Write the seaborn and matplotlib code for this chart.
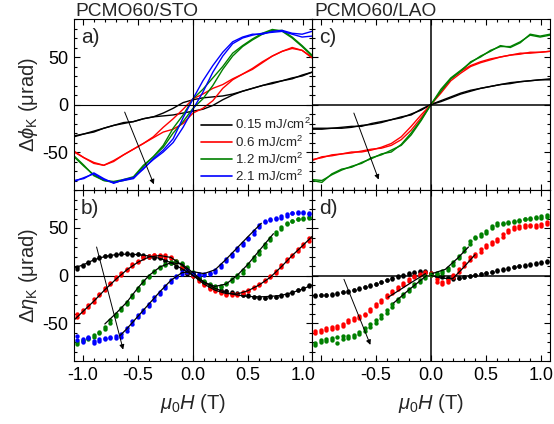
import matplotlib
matplotlib.use("Agg")
import matplotlib.pyplot as plt
from matplotlib.lines import Line2D
from matplotlib.ticker import MultipleLocator, FuncFormatter
import seaborn as sns

# ---------------- data ----------------
# Kerr rotation loops (top row): field grid and two sweep branches per fluence
H_loop = [-1.08, -0.99, -0.90, -0.81, -0.72, -0.63, -0.54, -0.45, -0.36, -0.27, -0.18, -0.09,
          0.00, 0.09, 0.18, 0.27, 0.36, 0.45, 0.54, 0.63, 0.72, 0.81, 0.90, 0.99, 1.08]

# PCMO60/STO, Delta phi_K (urad)
a_k015_dn = [-34, -31, -29, -25, -22, -20, -18, -15, -13, -9, -4, 2, 5, 7, 8, 9, 11, 14, 17, 20, 22, 25, 27, 31, 34]
a_k015_up = [-33, -31, -28, -25, -22, -19, -18, -15, -13, -12, -11, -9, -7, -5, -1, 5, 10, 14, 17, 20, 23, 25, 28, 30, 34]
a_k06_dn = [-50, -56, -62, -64, -59, -53, -47, -41, -34, -24, -15, -5, 6, 11, 17, 21, 27, 32, 37, 44, 51, 56, 60, 57, 50]
a_k06_up = [-49, -56, -61, -64, -60, -53, -47, -41, -35, -29, -26, -20, -9, -4, 4, 17, 26, 32, 38, 45, 51, 56, 59, 57, 49]
a_k12_dn = [-54, -64, -75, -80, -82, -80, -77, -65, -55, -43, -25, -11, 6, 16, 28, 40, 54, 62, 69, 75, 79, 77, 70, 61, 51]
a_k12_up = [-55, -65, -74, -80, -81, -79, -76, -64, -55, -45, -30, -18, -4, 6, 20, 37, 51, 61, 68, 74, 78, 78, 71, 62, 52]
a_k21_dn = [-80, -78, -72, -78, -83, -79, -77, -68, -57, -48, -36, -14, 6, 25, 41, 55, 66, 71, 74, 74, 77, 78, 75, 74, 77]
a_k21_up = [-81, -77, -73, -79, -82, -80, -78, -67, -58, -50, -40, -24, -5, 13, 34, 51, 64, 70, 73, 75, 76, 77, 74, 71, 72]

# PCMO60/LAO, Delta phi_K (urad)
c_k015_dn = [-26, -26, -25, -25, -24, -22, -21, -19, -16, -14, -10, -6, 0, 4, 8, 12, 15, 17, 19, 21, 22, 24, 25, 26, 27]
c_k015_up = [-25, -25, -25, -24, -23, -23, -20, -18, -16, -13, -11, -5, 0, 3, 7, 11, 14, 17, 19, 21, 23, 24, 25, 26, 26]
c_k06_dn = [-59, -55, -54, -52, -50, -50, -48, -45, -41, -34, -23, -11, 0, 14, 27, 35, 41, 45, 48, 50, 52, 53, 55, 55, 56]
c_k06_up = [-58, -56, -53, -52, -51, -49, -47, -46, -43, -37, -27, -14, 0, 12, 25, 33, 40, 44, 47, 50, 52, 54, 54, 55, 56]
c_k12_dn = [-80, -82, -73, -68, -66, -61, -57, -52, -50, -42, -30, -16, 0, 16, 28, 36, 44, 51, 56, 62, 60, 65, 74, 72, 74]
c_k12_up = [-79, -80, -74, -69, -65, -62, -56, -53, -48, -43, -32, -17, 0, 14, 27, 35, 45, 50, 57, 61, 61, 66, 73, 71, 73]

# Kerr ellipticity (bottom row): field grid and two sweep branches per fluence
H_dots = [-1.05, -1.00, -0.95, -0.90, -0.85, -0.80, -0.75, -0.70, -0.65, -0.60, -0.55, -0.50,
          -0.45, -0.40, -0.35, -0.30, -0.25, -0.20, -0.15, -0.10, -0.05, 0.00, 0.05, 0.10,
          0.15, 0.20, 0.25, 0.30, 0.35, 0.40, 0.45, 0.50, 0.55, 0.60, 0.65, 0.70, 0.75,
          0.80, 0.85, 0.90, 0.95, 1.00, 1.05]

# PCMO60/STO, Delta eta_K (urad)
b_k015_1 = [8.5, 11, 14, 17, 19, 20.5, 22, 23, 23.5, 23, 23, 22.5, 21.5, 20, 19, 18, 16, 13, 10, 6.5, 3, 0,
            -4, -8, -11, -13.5, -15, -16.5, -17.5, -19, -20, -21.5, -22.5, -23.5, -23.5, -23, -22.5, -21.5,
            -19.5, -17, -15.5, -13.5, -11]
b_k015_2 = [7, 10, 13, 16, 18, 21, 21, 22, 22.5, 24, 22, 23, 21, 21, 18, 19, 15, 14, 9, 7, 2, 1,
            -3, -7, -12, -13, -16, -16, -18, -18.5, -21, -21, -23, -22.5, -24, -22, -23, -20.5,
            -20, -18, -15, -14, -10]
b_k06_1 = [-44, -38, -33, -28, -21, -15, -9, -4, 1, 6, 10, 14, 18, 20, 21.5, 22, 21.5, 19, 15, 10, 5, 0.5,
           -4, -9, -13, -15, -17, -19, -19.5, -20, -18, -16, -13, -10, -6, -2, 3, 9, 15, 21, 26, 31, 36]
b_k06_2 = [-41, -36, -31, -25, -19, -13, -8, -2, 3, 7, 12, 15, 19, 21, 22, 21, 20, 18, 14, 9, 4, -1,
           -6, -10, -14, -16, -18, -20, -20, -19, -17, -15, -12, -9, -5, 0, 5, 11, 17, 22, 28, 33, 39]
b_k12_1 = [-70, -68, -66, -63, -59, -54, -47, -40, -34, -28, -21, -13, -6, 0, 5, 9, 12, 14, 14.5, 12, 8, 3,
           -3, -7, -10, -12, -11, -8, -4, 0.5, 6, 12, 19, 26, 33, 40, 46, 51, 55, 57.5, 59.5, 61, 61]
b_k12_2 = [-72, -69, -67, -65, -61, -56, -50, -43, -36, -30, -23, -15, -8, -2, 4, 8, 11, 13, 15, 13, 9, 4,
           -2, -6, -9, -11, -12, -9, -6, -2, 3, 10, 16, 23, 30, 37, 44, 49, 54, 57, 59, 60, 62]
b_k21_1 = [-64, -67, -65, -69, -67, -66, -65, -64, -62, -55, -48, -42, -36, -30, -23, -17, -11, -5, 0, 4, 5.5, 3,
           1.5, 2, 3, 6, 11, 17, 23, 29, 34, 40, 47, 53, 57, 59, 61, 63, 64.5, 65.5, 66, 65.5, 65]
b_k21_2 = [-68, -70, -66, -71, -69, -67, -66, -66, -65, -58, -51, -44, -38, -32, -26, -19, -13, -7, -2, 2, 4, 2,
           1, 1, 2, 4, 9, 15, 21, 27, 32, 38, 44, 51, 56, 58, 60, 61, 63, 66, 67, 67, 66]

# PCMO60/LAO, Delta eta_K (urad)
d_k015_1 = [-20.5, -20.5, -20, -19, -18, -17, -16, -15, -13, -12, -10.5, -8.5, -6.5, -4.5, -3, -1, 1, 2.5, 3.5, 4, 4, 2,
            -0.5, -1.5, -2.5, -3, -2.5, -1.5, 0, 1, 2, 3, 4, 5.5, 6.5, 7.5, 8.5, 9.5, 10.5, 11.5, 12.5, 13.5, 14.5]
d_k015_2 = [-22, -21, -21, -20, -19, -17.5, -17, -15, -14, -12.5, -11, -9, -7, -5, -3.5, -2, 0, 2, 3, 4.5, 5, 3,
            0, -1, -3, -3.5, -3, -2, -1, 0.5, 1.5, 2.5, 3.5, 5, 6, 7, 9, 10, 11, 12, 13, 14, 15]
d_k06_1 = [-58, -57, -55, -54, -53, -51, -47, -45, -43, -40, -35, -30, -26, -21, -16, -12, -8, -4, -1, 2, 3, 1,
           -7, -7, -5, 1, 7, 13, 19, 23, 28, 32, 35, 38, 44, 48, 51, 52, 53, 53, 53, 54, 56]
d_k06_2 = [-61, -59, -57, -56, -55, -53, -49, -47, -45, -42, -37, -32, -28, -23, -18, -14, -10, -6, -2, 1, 4, 3,
           -4, -9, -7, -2, 4, 10, 16, 21, 25, 30, 33, 36, 41, 46, 49, 50, 51, 52, 51, 52, 54]
d_k12_1 = [-71, -68, -67, -66, -65, -64, -64, -63, -59, -55, -51, -47, -42, -36, -30, -25, -19, -14, -9, -5, -1, 2,
           3, 5, 8, 14, 21, 29, 36, 41, 44, 47, 52, 55, 55.5, 56, 57, 58, 60, 61, 62, 62.5, 63.5]
d_k12_2 = [-73, -70, -69, -68, -71, -67, -66, -65, -62, -58, -54, -50, -45, -39, -33, -27, -22, -16, -11, -7, -3, 1,
           2, 3, 6, 11, 18, 26, 33, 39, 42, 45, 50, 53, 54, 55, 56, 57, 59, 60, 61, 61, 62]

# model curves drawn over the ellipticity data
fit_b_H = [-1.08, -1.0, -0.9, -0.8, -0.7, -0.6, -0.5, -0.4, -0.3, -0.2, -0.1, 0.0,
           0.1, 0.2, 0.3, 0.4, 0.5, 0.6, 0.7, 0.8, 0.9, 1.0, 1.08]
fit_b_k015 = [8, 11, 16.5, 20, 22, 22.5, 22, 20.5, 18, 13.5, 7, 0, -7, -13.5, -18, -20.5, -22, -22.5, -22, -21, -18, -14, -10]
fit_b_k06 = [-47, -38, -27, -15, -4, 6, 14, 19.5, 21, 19, 11, 0, -9, -15.5, -19, -19.5, -16, -10, -2, 9, 21, 32, 41]
fit_b_k12_H = [-0.80, -0.7, -0.6, -0.5, -0.4, -0.3, -0.2, -0.1, 0.0, 0.1, 0.2, 0.3, 0.4, 0.5, 0.6, 0.73]
fit_b_k12 = [-51, -40, -28, -13, 0, 9, 13.5, 12, 3, -7, -11.5, -9, 0, 12, 26, 44]
fit_b_k21_H = [-0.66, -0.6, -0.5, -0.4, -0.3, -0.2, -0.1, 0.0, 0.1, 0.2, 0.3, 0.4, 0.5, 0.62]
fit_b_k21 = [-63, -56, -43, -30, -17, -5, 3, 4, 2, 6, 17, 29, 41, 55]

fit_d_k06_neg_H = [-0.39, -0.2, -0.05]
fit_d_k06_neg = [-23, -9, 2]
fit_d_k06_pos_H = [0.0, 0.1, 0.2, 0.3, 0.4]
fit_d_k06_pos = [0, -3, -3, 9, 22]
fit_d_k12_neg_H = [-0.34, -0.2, -0.04]
fit_d_k12_neg = [-29, -15, 0]
fit_d_k12_pos_H = [0.01, 0.13, 0.24, 0.34]
fit_d_k12_pos = [2, 6.5, 18, 30]

fluence_labels = ["0.15 mJ/cm$^2$", "0.6 mJ/cm$^2$", "1.2 mJ/cm$^2$", "2.1 mJ/cm$^2$"]
colors = ["#000000", "#ff0000", "#008000", "#0000ff"]

# ---------------- style ----------------
sns.set_theme(style="ticks")
plt.rcParams.update({
    "font.family": ["Liberation Sans", "DejaVu Sans"],
    "mathtext.fontset": "custom",
    "mathtext.rm": "Liberation Sans",
    "mathtext.it": "Liberation Sans:italic",
    "mathtext.bf": "Liberation Sans:bold",
    "axes.unicode_minus": False,
    "axes.linewidth": 0.8,
    "axes.edgecolor": "black",
})

W, Hpx = 554, 424
fig = plt.figure(figsize=(W / 100, Hpx / 100), dpi=100)


def rect(x0, y0, x1, y1):
    return [x0 / W, 1 - y1 / Hpx, (x1 - x0) / W, (y1 - y0) / Hpx]


ax_a = fig.add_axes(rect(74, 19, 312, 190))
ax_c = fig.add_axes(rect(312, 19, 550, 190))
ax_b = fig.add_axes(rect(74, 190, 312, 361))
ax_d = fig.add_axes(rect(312, 190, 550, 361))
# keep the legend of panel a above the neighbouring panel
ax_a.set_zorder(ax_c.get_zorder() + 1)

lw_curve = 1.0
for ax, branches in [
    (ax_a, [(a_k015_dn, a_k015_up), (a_k06_dn, a_k06_up), (a_k12_dn, a_k12_up), (a_k21_dn, a_k21_up)]),
    (ax_c, [(c_k015_dn, c_k015_up), (c_k06_dn, c_k06_up), (c_k12_dn, c_k12_up)]),
]:
    for (dn, up), col in zip(branches, colors):
        sns.lineplot(x=H_loop, y=dn, color=col, lw=lw_curve, ax=ax, sort=False, estimator=None)
        sns.lineplot(x=H_loop, y=up, color=col, lw=lw_curve, ax=ax, sort=False, estimator=None)

for ax, branches in [
    (ax_b, [(b_k015_1, b_k015_2), (b_k06_1, b_k06_2), (b_k12_1, b_k12_2), (b_k21_1, b_k21_2)]),
    (ax_d, [(d_k015_1, d_k015_2), (d_k06_1, d_k06_2), (d_k12_1, d_k12_2)]),
]:
    for (s1, s2), col in zip(branches, colors):
        for s in (s1, s2):
            sns.scatterplot(x=H_dots, y=s, color=col, s=10, linewidth=0, ax=ax, zorder=3)

lw_fit = 0.9
for hx, fy in [(fit_b_H, fit_b_k015), (fit_b_H, fit_b_k06), (fit_b_k12_H, fit_b_k12), (fit_b_k21_H, fit_b_k21)]:
    sns.lineplot(x=hx, y=fy, color="black", lw=lw_fit, ax=ax_b, sort=False, estimator=None, zorder=4)
for hx, fy in [(fit_d_k06_neg_H, fit_d_k06_neg), (fit_d_k06_pos_H, fit_d_k06_pos),
               (fit_d_k12_neg_H, fit_d_k12_neg), (fit_d_k12_pos_H, fit_d_k12_pos)]:
    sns.lineplot(x=hx, y=fy, color="black", lw=lw_fit, ax=ax_d, sort=False, estimator=None, zorder=4)

# arrows showing increasing fluence
arrows = {
    ax_a: ((-0.62, -8), (-0.355, -84)),
    ax_b: ((-0.875, 30), (-0.634, -78)),
    ax_c: ((-0.70, -9), (-0.475, -79)),
    ax_d: ((-0.79, -4), (-0.55, -73)),
}
for ax, (p0, p1) in arrows.items():
    ax.annotate("", xy=p1, xytext=p0,
                arrowprops=dict(arrowstyle="-|>", color="black", lw=0.7, mutation_scale=7,
                                shrinkA=0, shrinkB=0), zorder=5)

# axes formatting
def fmt_x(v, pos):
    if abs(v + 1.0) < 1e-6:
        return ""
    return f"{v:.1f}"


for ax, lw0 in [(ax_a, 0.8), (ax_b, 0.8), (ax_c, 1.1), (ax_d, 1.1)]:
    ax.set_xlim(-1.08, 1.08)
    ax.set_ylim(-90, 90)
    ax.axhline(0, color="black", lw=lw0, zorder=2)
    ax.axvline(0, color="black", lw=lw0, zorder=2)
    ax.xaxis.set_major_locator(MultipleLocator(0.5))
    ax.xaxis.set_minor_locator(MultipleLocator(0.1))
    ax.yaxis.set_major_locator(MultipleLocator(50))
    ax.yaxis.set_minor_locator(MultipleLocator(10))
    ax.tick_params(which="both", direction="in", top=True, right=True, bottom=True, left=True,
                   colors="black", labelsize=13, width=0.8)
    ax.tick_params(which="major", length=4, pad=4)
    ax.tick_params(which="minor", length=2.2)
    ax.set_xlabel("")
    ax.set_ylabel("")
    for sp in ax.spines.values():
        sp.set_visible(True)
        sp.set_color("black")
        sp.set_linewidth(0.8)

for ax in (ax_a, ax_c):
    ax.tick_params(labelbottom=False)
for ax in (ax_c, ax_d):
    ax.tick_params(labelleft=False)
ax_b.xaxis.set_major_formatter(FuncFormatter(lambda v, p: f"{v:.1f}"))
ax_d.xaxis.set_major_formatter(FuncFormatter(fmt_x))
ax_b.yaxis.set_major_formatter(FuncFormatter(lambda v, p: f"{v:.0f}"))
ax_a.yaxis.set_major_formatter(FuncFormatter(lambda v, p: f"{v:.0f}"))

ax_a.set_ylabel(r"$\Delta\phi_\mathrm{K}$ (μrad)", fontsize=14.5, labelpad=2)
ax_b.set_ylabel(r"$\Delta\eta_\mathrm{K}$ (μrad)", fontsize=14.5, labelpad=2)
ax_b.set_xlabel(r"$\mu_0H$ (T)", fontsize=14.5, labelpad=6)
ax_d.set_xlabel(r"$\mu_0H$ (T)", fontsize=14.5, labelpad=6)

for ax, lab in [(ax_a, "a)"), (ax_b, "b)"), (ax_c, "c)"), (ax_d, "d)")]:
    ax.text(0.03, 0.95, lab, transform=ax.transAxes, fontsize=15, va="top", ha="left")

fig.text(75 / W, 1 - 16 / Hpx, "PCMO60/STO", fontsize=13.8, ha="left", va="baseline")
fig.text(314 / W, 1 - 16 / Hpx, "PCMO60/LAO", fontsize=13.8, ha="left", va="baseline")

handles = [Line2D([0], [0], color=c, lw=1.2) for c in colors]
ax_a.legend(handles, fluence_labels, loc="lower left", bbox_to_anchor=(0.535, 0.035),
            frameon=False, fontsize=9.6, handlelength=2.3, handletextpad=0.25,
            labelspacing=0.15, borderpad=0, borderaxespad=0)

fig.savefig("out.png", dpi=100)
